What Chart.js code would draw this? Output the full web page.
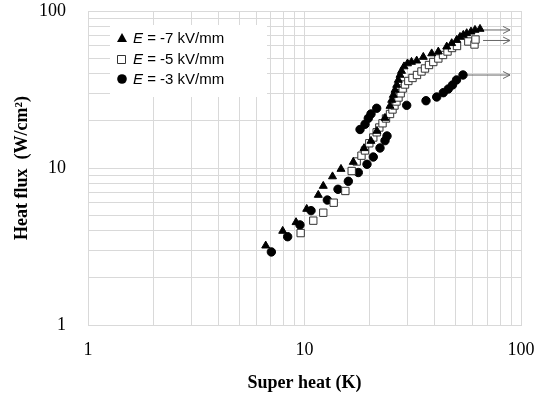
<!DOCTYPE html>
<html>
<head>
<meta charset="utf-8">
<script src="https://cdn.jsdelivr.net/npm/chart.js@4/dist/chart.umd.min.js"></script>
<style>
  html, body { margin: 0; padding: 0; background: #fff; }
  #wrap { width: 540px; height: 396px; }
</style>
</head>
<body>
<div id="wrap"><canvas id="boiling-chart" width="540" height="396"></canvas></div>
<script>
// Legend labels (the "E" is drawn in italics)
const fieldLabels = [' = -7 kV/mm', ' = -5 kV/mm', ' = -3 kV/mm'];

// E = -7 kV/mm (filled triangles)
const superHeat7 = [6.62, 7.93, 9.14, 10.24, 11.58, 12.21, 13.47, 14.74, 16.80, 18.83, 20.28, 21.62,
    23.54, 24.83, 25.28, 25.71, 26.18, 26.66, 27.12, 27.61, 28.06, 28.82, 29.91, 31.21, 32.98, 35.38,
    38.68, 41.50, 45.39, 47.86, 50.47, 52.27, 54.14, 56.14, 58.75, 61.30, 64.67];
const heatFlux7 = [3.20, 3.97, 4.51, 5.48, 6.73, 7.68, 8.83, 9.85, 10.92, 13.35, 14.86, 17.21,
    20.82, 24.83, 27.11, 29.17, 31.40, 33.79, 36.36, 39.12, 41.48, 44.31, 46.30, 47.33, 48.25, 50.93,
    53.62, 55.06, 59.25, 62.28, 65.36, 68.30, 70.33, 72.11, 73.82, 75.69, 76.80];

// E = -5 kV/mm (open squares)
const superHeat5 = [9.60, 10.98, 12.21, 13.64, 15.44, 16.52, 17.42, 18.33, 19.03, 19.92, 20.78, 21.55,
    22.16, 22.93, 23.79, 24.83, 25.50, 26.04, 26.60, 27.17, 27.81, 28.41, 29.12, 30.17, 31.54, 33.08,
    34.70, 36.02, 37.59, 39.35, 41.50, 43.63, 45.77, 48.01, 50.63, 57.10, 60.98, 61.63];
const heatFlux5 = [3.85, 4.62, 5.19, 6.01, 7.14, 9.57, 11.00, 11.98, 12.93, 14.37, 15.64, 16.88,
    18.11, 19.27, 20.67, 22.08, 23.59, 25.00, 26.52, 28.12, 29.91, 32.09, 34.03, 35.83, 37.44, 39.12,
    41.18, 43.03, 45.29, 47.33, 49.84, 52.46, 55.21, 58.11, 59.85, 63.93, 61.18, 65.84];

// E = -3 kV/mm (filled circles)
const superHeat3 = [7.03, 8.36, 9.53, 10.72, 12.75, 14.28, 15.94, 17.72, 19.44, 20.78, 22.32, 23.54,
    24.05, 18.05, 19.03, 19.71, 20.28, 21.55, 29.65, 36.41, 40.80, 43.77, 46.15, 48.27, 50.36, 53.96];
const heatFlux3 = [2.92, 3.65, 4.34, 5.35, 6.25, 7.32, 8.23, 9.36, 10.56, 11.75, 13.41, 14.93,
    15.99, 17.59, 18.98, 20.73, 22.08, 24.01, 25.07, 26.83, 28.33, 30.18, 31.86, 33.79, 36.36, 39.12];

// Arrows after the last point of each series (same order as the legend)
const arrowStartX = [66.8, 66.8, 55.0];
const arrowEndX = [89, 89, 89];
const arrowY = [75.7, 64.9, 39.1];

// Axis ticks: gridlines at every value, labels only on decades
const tickValues = [1, 2, 3, 4, 5, 6, 7, 8, 9, 10, 20, 30, 40, 50, 60, 70, 80, 90, 100];
const tickLabels = [1, 10, 100];

const gridColor = '#d9d9d9';
const serif = "'Liberation Serif', 'Times New Roman', serif";

function toPoints(xs, ys) {
    return xs.map((x, i) => ({ x: x, y: ys[i] }));
}

function logTicks(scale) {
    scale.ticks = tickValues.map(v => ({ value: v }));
}

function tickLabel(value) {
    return tickLabels.includes(value) ? String(value) : '';
}

// Marker styles, shared by the datasets and the legend
const markerStyles = [
    { pointStyle: 'triangle', radius: 4.6, fill: '#000', stroke: '#000' },
    { pointStyle: 'rect', radius: 5.2, fill: '#fff', stroke: '#333' },
    { pointStyle: 'circle', radius: 4.2, fill: '#000', stroke: '#000' }
];

const scatterSets = [
    toPoints(superHeat7, heatFlux7),
    toPoints(superHeat5, heatFlux5),
    toPoints(superHeat3, heatFlux3)
].map((points, i) => ({
    type: 'scatter',
    data: points,
    pointStyle: markerStyles[i].pointStyle,
    pointRadius: markerStyles[i].radius,
    pointBackgroundColor: markerStyles[i].fill,
    pointBorderColor: markerStyles[i].stroke,
    pointBorderWidth: 1
}));

const arrowSets = arrowY.map((y, i) => ({
    type: 'line',
    data: [{ x: arrowStartX[i], y: y }, { x: arrowEndX[i], y: y }],
    borderColor: '#666',
    borderWidth: 1,
    pointRadius: 0,
    isArrow: true
}));

/**
 * Draw open arrowheads at the end of each arrow line
 */
const arrowHeads = {
    id: 'arrowHeads',
    afterDatasetsDraw(chart) {
        const ctx = chart.ctx;
        ctx.save();
        ctx.strokeStyle = '#666';
        ctx.lineWidth = 1;
        chart.data.datasets.forEach((ds, i) => {
            if (!ds.isArrow) return;
            const pts = chart.getDatasetMeta(i).data;
            const end = pts[pts.length - 1];
            ctx.beginPath();
            ctx.moveTo(end.x - 7, end.y - 3.5);
            ctx.lineTo(end.x, end.y);
            ctx.lineTo(end.x - 7, end.y + 3.5);
            ctx.stroke();
        });
        ctx.restore();
    }
};

/**
 * Legend box drawn inside the plot, covering the gridlines
 */
const insideLegend = {
    id: 'insideLegend',
    beforeDatasetsDraw(chart) {
        const ctx = chart.ctx;
        ctx.save();
        ctx.fillStyle = '#fff';
        ctx.fillRect(110, 25, 157, 72);

        const rowY = [38, 59, 79];
        rowY.forEach((y, i) => {
            const m = markerStyles[i];
            ctx.fillStyle = m.fill;
            ctx.strokeStyle = m.stroke;
            ctx.lineWidth = 1;
            ctx.beginPath();
            if (m.pointStyle === 'triangle') {
                ctx.moveTo(122, y - 5);
                ctx.lineTo(127, y + 4);
                ctx.lineTo(117, y + 4);
                ctx.closePath();
                ctx.fill();
            } else if (m.pointStyle === 'rect') {
                ctx.rect(117.5, y - 3.5, 8, 8);
                ctx.fill();
                ctx.stroke();
            } else {
                ctx.arc(122, y, 4.8, 0, Math.PI * 2);
                ctx.fill();
            }

            ctx.fillStyle = '#000';
            ctx.textBaseline = 'middle';
            ctx.font = "italic 15px 'Liberation Sans', Arial, sans-serif";
            ctx.fillText('E', 133, y + 0.5);
            const w = ctx.measureText('E').width;
            ctx.font = "15px 'Liberation Sans', Arial, sans-serif";
            ctx.fillText(fieldLabels[i], 133 + w, y + 0.5);
        });
        ctx.restore();
    }
};

new Chart(document.getElementById('boiling-chart'), {
    data: { datasets: scatterSets.concat(arrowSets) },
    options: {
        responsive: false,
        animation: false,
        devicePixelRatio: 1,
        layout: { padding: { left: 0, right: 19, top: 11, bottom: 0 } },
        plugins: {
            legend: { display: false },
            tooltip: { enabled: false }
        },
        scales: {
            x: {
                type: 'logarithmic',
                min: 1,
                max: 100,
                afterBuildTicks: logTicks,
                afterFit: scale => {
                    scale.height = 71;
                    scale.paddingLeft = 0;
                    scale.paddingRight = 0;
                },
                grid: { color: gridColor, drawTicks: false },
                border: { color: gridColor },
                ticks: {
                    autoSkip: false,
                    maxRotation: 0,
                    padding: 14,
                    color: '#000',
                    font: { family: serif, size: 18 },
                    callback: tickLabel
                },
                title: {
                    display: true,
                    text: 'Super heat (K)',
                    color: '#000',
                    font: { family: serif, size: 18, weight: 'bold' },
                    padding: { top: 0, bottom: 2 }
                }
            },
            y: {
                type: 'logarithmic',
                min: 1,
                max: 100,
                afterBuildTicks: logTicks,
                afterFit: scale => {
                    scale.width = 88;
                    scale.paddingTop = 0;
                    scale.paddingBottom = 0;
                },
                grid: { color: gridColor, drawTicks: false },
                border: { color: gridColor },
                ticks: {
                    autoSkip: false,
                    padding: 22,
                    color: '#000',
                    font: { family: serif, size: 18 },
                    callback: tickLabel
                },
                title: {
                    display: true,
                    text: 'Heat flux  (W/cm²)',
                    color: '#000',
                    font: { family: serif, size: 18, weight: 'bold' },
                    padding: { top: 12, bottom: 0 }
                }
            }
        }
    },
    plugins: [insideLegend, arrowHeads]
});
</script>
</body>
</html>
